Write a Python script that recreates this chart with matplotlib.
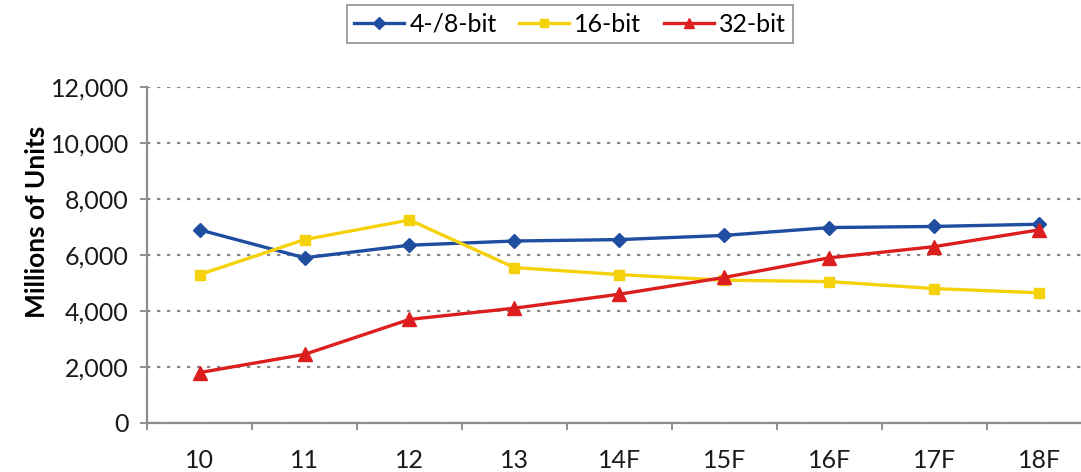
import numpy as np
import matplotlib.pyplot as plt
from matplotlib.ticker import FuncFormatter

plt.rcParams['font.family'] = ['Lato', 'DejaVu Sans']

years = ['10', '11', '12', '13', '14F', '15F', '16F', '17F', '18F']
bit8 = [6900, 5900, 6350, 6500, 6550, 6700, 6980, 7020, 7100]
bit16 = [5300, 6550, 7250, 5550, 5300, 5100, 5050, 4800, 4650]
bit32 = [1800, 2450, 3700, 4100, 4600, 5200, 5900, 6300, 6900]

fig = plt.figure(figsize=(10.81, 4.72), dpi=100)
ax = fig.add_axes([147/1081, 1 - 423/472, (1092 - 147)/1081, (423 - 87)/472])

x = np.arange(len(years))
ax.plot(x, bit8, color='#1f4ea0', lw=2.4, marker='D', ms=7.5, label='4-/8-bit')
ax.plot(x, bit16, color='#f5d10a', lw=2.4, marker='s', ms=6.5, label='16-bit')
ax.plot(x, bit32, color='#dc1e1e', lw=2.4, marker='^', ms=9.5, label='32-bit')

ax.set_xlim(-0.5, len(years) - 0.5)
ax.set_ylim(0, 12000)
ax.set_yticks(range(0, 12001, 2000))
ax.yaxis.set_major_formatter(FuncFormatter(lambda v, p: f'{int(v):,}'))
ax.set_xticks(x)
ax.set_xticklabels(years)
ax.set_xticks(np.arange(-0.5, len(years)), minor=True)
ax.tick_params(axis='x', which='major', length=0, pad=19, labelsize=18, colors='#1a1a1a')
ax.tick_params(axis='x', which='minor', length=5, color='#888888', width=1.3, direction='out')
ax.tick_params(axis='y', length=5, width=1.3, color='#888888', labelsize=18, colors='#1a1a1a', pad=8)

ax.grid(axis='y', linestyle=(0, (1.5, 3)), color='#888888', lw=1.6)
ax.set_axisbelow(True)
for s in ['top', 'right']:
    ax.spines[s].set_visible(False)
for s in ['left', 'bottom']:
    ax.spines[s].set_color('#8c8c8c')
    ax.spines[s].set_linewidth(1.6)

ax.set_ylabel('Millions of Units', fontsize=19, fontweight='bold')
ax.yaxis.set_label_coords(-0.104, 0.60)

leg = fig.legend(loc='upper center', bbox_to_anchor=(570/1081, 1 - 5/472), ncol=3,
                 fontsize=18, frameon=True, fancybox=False, edgecolor='#888888',
                 handlelength=2.0, columnspacing=0.9, handletextpad=0.2,
                 borderpad=0.3, borderaxespad=0, markerscale=0.8)
leg.get_frame().set_linewidth(1.4)

fig.savefig('out.png', dpi=100)
